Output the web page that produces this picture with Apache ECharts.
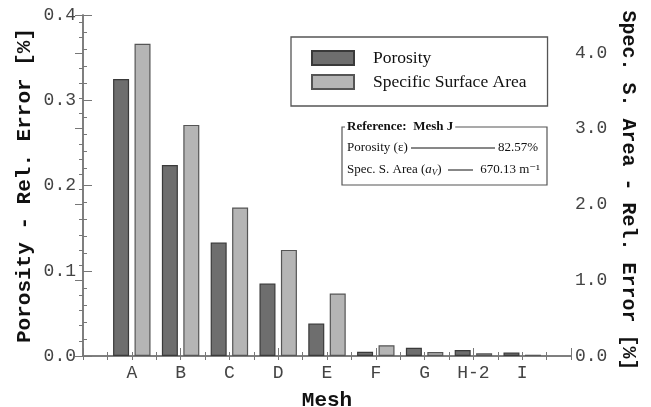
<!DOCTYPE html>
<html>
<head>
<meta charset="utf-8">
<script src="https://cdn.jsdelivr.net/npm/echarts@6/dist/echarts.min.js"></script>
<style>html,body{margin:0;padding:0;background:#fff}#c{width:651px;height:407px}</style>
</head>
<body>
<div id="c"></div>
<script>
var categories = ['A', 'B', 'C', 'D', 'E', 'F', 'G', 'H-2', 'I'];
var porosityErr = [0.325, 0.224, 0.133, 0.085, 0.038, 0.005, 0.0097, 0.007, 0.004];
var ssaErr = [4.12, 3.05, 1.96, 1.40, 0.825, 0.142, 0.053, 0.036, 0.017];
var leftTicks = [0, 0.1, 0.2, 0.3, 0.4];
var rightTicks = [0, 1, 2, 3, 4];

var mono = '"Liberation Mono", "DejaVu Sans Mono", monospace';
var serif = '"Liberation Serif", "DejaVu Serif", serif';
var axisCol = '#777';

function isInt(v) { return Math.abs(v - Math.round(v)) < 1e-9; }

var chart = echarts.init(document.getElementById('c'), null, {renderer: 'canvas'});
var option = {
  animation: false,
  backgroundColor: '#fff',
  grid: {left: 83, right: 80, top: 15, bottom: 51, containLabel: false, outerBoundsMode: 'none'},
  legend: {
    left: 291, top: 37, orient: 'vertical',
    padding: [12, 21, 15, 20],
    itemWidth: 42, itemHeight: 14, itemGap: 6,
    borderColor: '#555', borderWidth: 1.3,
    icon: 'rect',
    textStyle: {fontFamily: serif, fontSize: 17.5, color: '#111', padding: [0, 0, 0, 14], lineHeight: 14},
    data: ['Porosity', 'Specific Surface Area']
  },
  xAxis: [
    {
      type: 'value', min: 0, max: categories.length + 1, interval: 1, position: 'bottom',
      name: 'Mesh', nameLocation: 'middle', nameGap: 34,
      nameTextStyle: {fontFamily: mono, fontWeight: 'bold', fontSize: 21, color: '#111'},
      axisLine: {show: true, lineStyle: {color: axisCol, width: 1.5}},
      axisTick: {show: true, inside: true, length: 4, lineStyle: {color: axisCol}},
      minorTick: {show: true, splitNumber: 2, length: 4, lineStyle: {color: axisCol}},
      splitLine: {show: false},
      axisLabel: {
        margin: 8, fontFamily: mono, fontSize: 18, color: '#444',
        formatter: function (v) { return isInt(v) && v >= 1 && v <= categories.length ? categories[v - 1] : ''; }
      }
    },
    {
      type: 'value', min: 0, max: categories.length + 1, interval: 1, position: 'top',
      axisLine: {show: true, lineStyle: {color: axisCol, width: 1.5}},
      axisTick: {show: true, inside: true, length: 4, lineStyle: {color: axisCol}},
      minorTick: {show: true, splitNumber: 2, length: 4, lineStyle: {color: axisCol}},
      splitLine: {show: false},
      axisLabel: {show: false}
    },
    {
      type: 'value', min: 0, max: categories.length + 1, interval: 2, position: 'bottom',
      axisLine: {show: false},
      axisTick: {show: true, inside: true, length: 8, lineStyle: {color: axisCol}},
      splitLine: {show: false},
      axisLabel: {show: false}
    }
  ],
  yAxis: [
    {
      type: 'value', min: leftTicks[0], max: leftTicks[leftTicks.length - 1], interval: 0.1, position: 'left',
      name: 'Porosity - Rel. Error [%]', nameLocation: 'middle', nameGap: 48, nameRotate: 90,
      nameMoveOverlap: false,
      nameTextStyle: {fontFamily: mono, fontWeight: 'bold', fontSize: 21, color: '#111'},
      axisLine: {show: true, lineStyle: {color: axisCol, width: 1.5}},
      axisTick: {show: true, inside: true, length: 9, lineStyle: {color: axisCol}},
      minorTick: {show: true, splitNumber: 5, length: 4, lineStyle: {color: axisCol}},
      splitLine: {show: false},
      axisLabel: {margin: 7, fontFamily: mono, fontSize: 18, color: '#444',
        formatter: function (v) { return v.toFixed(1); }}
    },
    {
      type: 'value', min: rightTicks[0], max: 4.5, interval: 1, position: 'right',
      name: 'Spec. S. Area - Rel. Error [%]', nameLocation: 'middle', nameGap: 47, nameRotate: -90,
      nameTextStyle: {fontFamily: mono, fontWeight: 'bold', fontSize: 20, color: '#111', padding: [0, 0, 0, 10]},
      axisLine: {show: true, lineStyle: {color: axisCol, width: 1.5}},
      axisTick: {show: true, inside: true, length: 8, lineStyle: {color: axisCol}},
      minorTick: {show: true, splitNumber: 5, length: 4, lineStyle: {color: axisCol}},
      splitLine: {show: false},
      axisLabel: {margin: 4, fontFamily: mono, fontSize: 18, color: '#444',
        formatter: function (v) { return isInt(v) && rightTicks.indexOf(Math.round(v)) >= 0 ? v.toFixed(1) : ''; }}
    }
  ],
  series: [
    {
      name: 'Porosity', type: 'bar', xAxisIndex: 0, yAxisIndex: 0,
      barWidth: 16, barGap: '34%',
      itemStyle: {color: '#6e6e6e', borderColor: '#3a3a3a', borderWidth: 1.2},
      data: categories.map(function (c, i) { return [i + 1, porosityErr[i]]; })
    },
    {
      name: 'Specific Surface Area', type: 'bar', xAxisIndex: 0, yAxisIndex: 1,
      barWidth: 16, barGap: '34%',
      itemStyle: {color: '#b5b5b5', borderColor: '#555', borderWidth: 1.2},
      data: categories.map(function (c, i) { return [i + 1, ssaErr[i]]; })
    }
  ],
  graphic: [
    {type: 'rect', shape: {x: 342, y: 127, width: 205, height: 58},
     style: {fill: 'none', stroke: '#555', lineWidth: 1.2}, z: 10},
    {type: 'text', x: 345, y: 127, z: 11,
     style: {text: 'Reference:  Mesh J', fontFamily: serif, fontWeight: 'bold', fontSize: 13,
             fill: '#111', backgroundColor: '#fff', padding: [1, 2], verticalAlign: 'middle'}},
    {type: 'text', x: 347, y: 148, z: 11,
     style: {text: 'Porosity (\u03b5)', fontFamily: serif, fontSize: 13, fill: '#111', verticalAlign: 'middle'}},
    {type: 'line', shape: {x1: 411, y1: 148, x2: 495, y2: 148}, style: {stroke: '#111', lineWidth: 1}, z: 11},
    {type: 'text', x: 538, y: 148, z: 11,
     style: {text: '82.57%', fontFamily: serif, fontSize: 13, fill: '#111', align: 'right', verticalAlign: 'middle'}},
    {type: 'text', x: 347, y: 170, z: 11,
     style: {text: '{n|Spec. S. Area (}{i|a}{s|V}{n|)}', verticalAlign: 'middle',
       rich: {
         n: {fontFamily: serif, fontSize: 13, fill: '#111'},
         i: {fontFamily: serif, fontSize: 13, fontStyle: 'italic', fill: '#111'},
         s: {fontFamily: serif, fontSize: 9, fontStyle: 'italic', fill: '#111', padding: [6, 0, 0, 0]}
       }}},
    {type: 'line', shape: {x1: 448, y1: 170, x2: 473, y2: 170}, style: {stroke: '#111', lineWidth: 1}, z: 11},
    {type: 'text', x: 540, y: 170, z: 11,
     style: {text: '670.13 m\u207b\u00b9', fontFamily: serif, fontSize: 13, fill: '#111', align: 'right', verticalAlign: 'middle'}}
  ]
};
chart.setOption(option);
</script>
</body>
</html>
